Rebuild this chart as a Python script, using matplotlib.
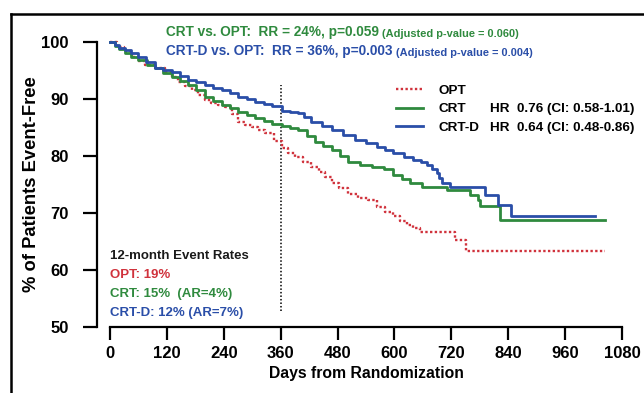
import matplotlib
matplotlib.use('Agg')
import matplotlib.pyplot as plt
from matplotlib.lines import Line2D

# ---------------- data ----------------
crtd_days = [0, 10, 20, 32, 45, 60, 75, 95, 112, 130, 148, 165, 182, 200, 218, 236,
             254, 271, 289, 306, 324, 341, 362, 380, 397, 410, 425, 447, 468, 492,
             517, 540, 563, 580, 598, 620, 640, 655, 668, 680, 689, 695, 700, 717,
             791, 819, 845, 1023]
crtd_surv = [100, 99.5, 99.0, 98.6, 98.0, 97.4, 96.5, 95.4, 95.1, 94.8, 94.0, 93.3,
             92.9, 92.5, 92.0, 91.6, 91.0, 90.4, 90.0, 89.5, 89.1, 88.7, 87.9, 87.7,
             87.5, 86.8, 86.0, 85.3, 84.6, 83.7, 82.8, 82.3, 81.6, 81.0, 80.5, 79.9,
             79.3, 78.9, 78.4, 77.7, 77.0, 76.1, 75.2, 74.5, 73.2, 71.4, 69.5, 69.5]

crt_days = [0, 10, 20, 32, 45, 60, 78, 95, 112, 130, 148, 165, 182, 200, 218, 236,
            254, 271, 289, 306, 324, 341, 362, 380, 397, 415, 432, 450, 468, 485,
            503, 527, 552, 577, 598, 615, 633, 658, 710, 760, 777, 781, 823, 1044]
crt_surv = [100, 99.3, 98.7, 98.0, 97.4, 96.8, 96.0, 95.4, 94.6, 93.9, 93.2, 92.5,
            91.5, 90.4, 89.7, 89.0, 88.4, 87.8, 87.2, 86.7, 86.2, 85.7, 85.3, 85.0,
            84.6, 83.5, 82.5, 81.8, 81.1, 80.0, 79.0, 78.4, 78.1, 77.8, 76.7, 76.0,
            75.3, 74.6, 74.0, 73.2, 72.3, 71.2, 68.7, 68.7]

opt_days = [0, 15, 30, 46, 60, 74, 95, 116, 130, 144, 158, 172, 186, 200, 214, 228,
            243, 257, 271, 285, 299, 313, 327, 345, 362, 376, 390, 408, 425, 440,
            454, 468, 482, 503, 524, 545, 563, 580, 598, 612, 626, 640, 654, 728,
            751, 1044]
opt_surv = [100, 99.2, 98.4, 97.4, 96.7, 96.0, 95.4, 94.8, 93.9, 93.0, 92.3, 91.6,
            90.7, 89.8, 89.3, 88.9, 88.6, 87.3, 86.0, 85.5, 85.1, 84.5, 84.0, 82.7,
            81.4, 80.6, 79.9, 79.0, 78.1, 77.2, 76.4, 75.3, 74.3, 73.4, 72.6, 72.2,
            71.1, 70.2, 69.4, 68.6, 67.9, 67.3, 66.7, 65.3, 63.4, 63.4]

landmark_day = 360
landmark_range = [52.8, 92.5]

x_ticks = [0, 120, 240, 360, 480, 600, 720, 840, 960, 1080]
y_ticks = [50, 60, 70, 80, 90, 100]

legend_labels = ['OPT', 'CRT', 'CRT-D']
hr_labels = ['HR  0.76 (CI: 0.58-1.01)', 'HR  0.64 (CI: 0.48-0.86)']
header_main = ['CRT vs. OPT:  RR = 24%, p=0.059', 'CRT-D vs. OPT:  RR = 36%, p=0.003']
header_adj = ['(Adjusted p-value = 0.060)', '(Adjusted p-value = 0.004)']
rates_title = '12-month Event Rates'
rates = ['OPT: 19%', 'CRT: 15%  (AR=4%)', 'CRT-D: 12% (AR=7%)']

# ---------------- style ----------------
RED = '#d0323c'
GREEN = '#2f8a3e'
BLUE = '#2a4ea8'

plt.rcParams['font.family'] = ['Liberation Sans', 'DejaVu Sans']
plt.rcParams['font.weight'] = 'bold'

W, H = 644, 393
fig = plt.figure(figsize=(6.44, 3.93), dpi=100)


def fx(px):
    return px / W


def fy(py):
    return 1 - py / H


ax = fig.add_axes([fx(110), fy(327), fx(622) - fx(110), fy(42) - fy(327)])
ax.set_xlim(0, 1080)
ax.set_ylim(50, 100)

l_opt, = ax.step(opt_days, opt_surv, where='post', color=RED, lw=1.7,
                 linestyle=(0, (1, 1)), clip_on=False, zorder=3)
l_crt, = ax.step(crt_days, crt_surv, where='post', color=GREEN, lw=2.0,
                 clip_on=False, zorder=4)
l_crtd, = ax.step(crtd_days, crtd_surv, where='post', color=BLUE, lw=2.0,
                  clip_on=False, zorder=5)

ax.plot([landmark_day, landmark_day], landmark_range, color='black', lw=1.1,
        linestyle=(0, (1, 1.3)), zorder=2)

for s in ['top', 'right']:
    ax.spines[s].set_visible(False)
ax.spines['left'].set_position(('outward', 13 * 0.72))
ax.spines['left'].set_bounds(50, 100)
ax.spines['bottom'].set_bounds(0, 1080)
for s in ['left', 'bottom']:
    ax.spines[s].set_linewidth(1.6)

ax.set_xticks(x_ticks)
ax.set_yticks(y_ticks)
ax.tick_params(axis='y', direction='out', length=10, width=1.6, labelsize=12, pad=10.5)
ax.tick_params(axis='x', direction='out', length=9.4, width=1.6, labelsize=12, pad=4)
for lab in ax.get_xticklabels() + ax.get_yticklabels():
    lab.set_fontweight('bold')

ax.set_xlabel('Days from Randomization', fontsize=11.3, fontweight='bold', labelpad=4)
fig.text(fx(32), fy(184), '% of Patients Event-Free', rotation=90, fontsize=13.2,
         fontweight='bold', ha='center', va='center')

# legend
LFS = 9.7
leg = ax.legend([l_opt, l_crt, l_crtd], legend_labels, loc='center left',
                bbox_to_anchor=(fx(396), fy(109)), bbox_transform=fig.transFigure,
                frameon=False, fontsize=LFS, handlelength=2.0, handletextpad=1.15,
                labelspacing=0.45, borderpad=0, borderaxespad=0)
for t in leg.get_texts():
    t.set_fontweight('bold')
fig.text(fx(490), fy(109), hr_labels[0], fontsize=LFS, fontweight='bold', va='center')
fig.text(fx(490), fy(128.5), hr_labels[1], fontsize=LFS, fontweight='bold', va='center')

# header texts
for m, a, c, yy in zip(header_main, header_adj, [GREEN, BLUE], [32, 51]):
    t = fig.text(fx(166), fy(yy), m, fontsize=9.8, fontweight='bold', color=c, va='center')
    ax.annotate(a, xy=(1, 0), xycoords=t, xytext=(2.5, 0), textcoords='offset points',
                fontsize=7.9, fontweight='bold', color=c, va='bottom', ha='left',
                annotation_clip=False)

# 12-month event rates
fig.text(fx(110), fy(256), rates_title, fontsize=9.5, fontweight='bold', color='#1a1a1a', va='center')
for txt, c, yy in zip(rates, [RED, GREEN, BLUE], [275, 294, 313]):
    fig.text(fx(110), fy(yy), txt, fontsize=9.5, fontweight='bold', color=c, va='center')

# outer frame lines
fig.add_artist(Line2D([fx(10.5), 1], [fy(14), fy(14)], transform=fig.transFigure,
                      color='black', lw=1.8))
fig.add_artist(Line2D([fx(10.5), fx(10.5)], [fy(14), 0], transform=fig.transFigure,
                      color='black', lw=1.8))

fig.savefig('out.png', dpi=100)
